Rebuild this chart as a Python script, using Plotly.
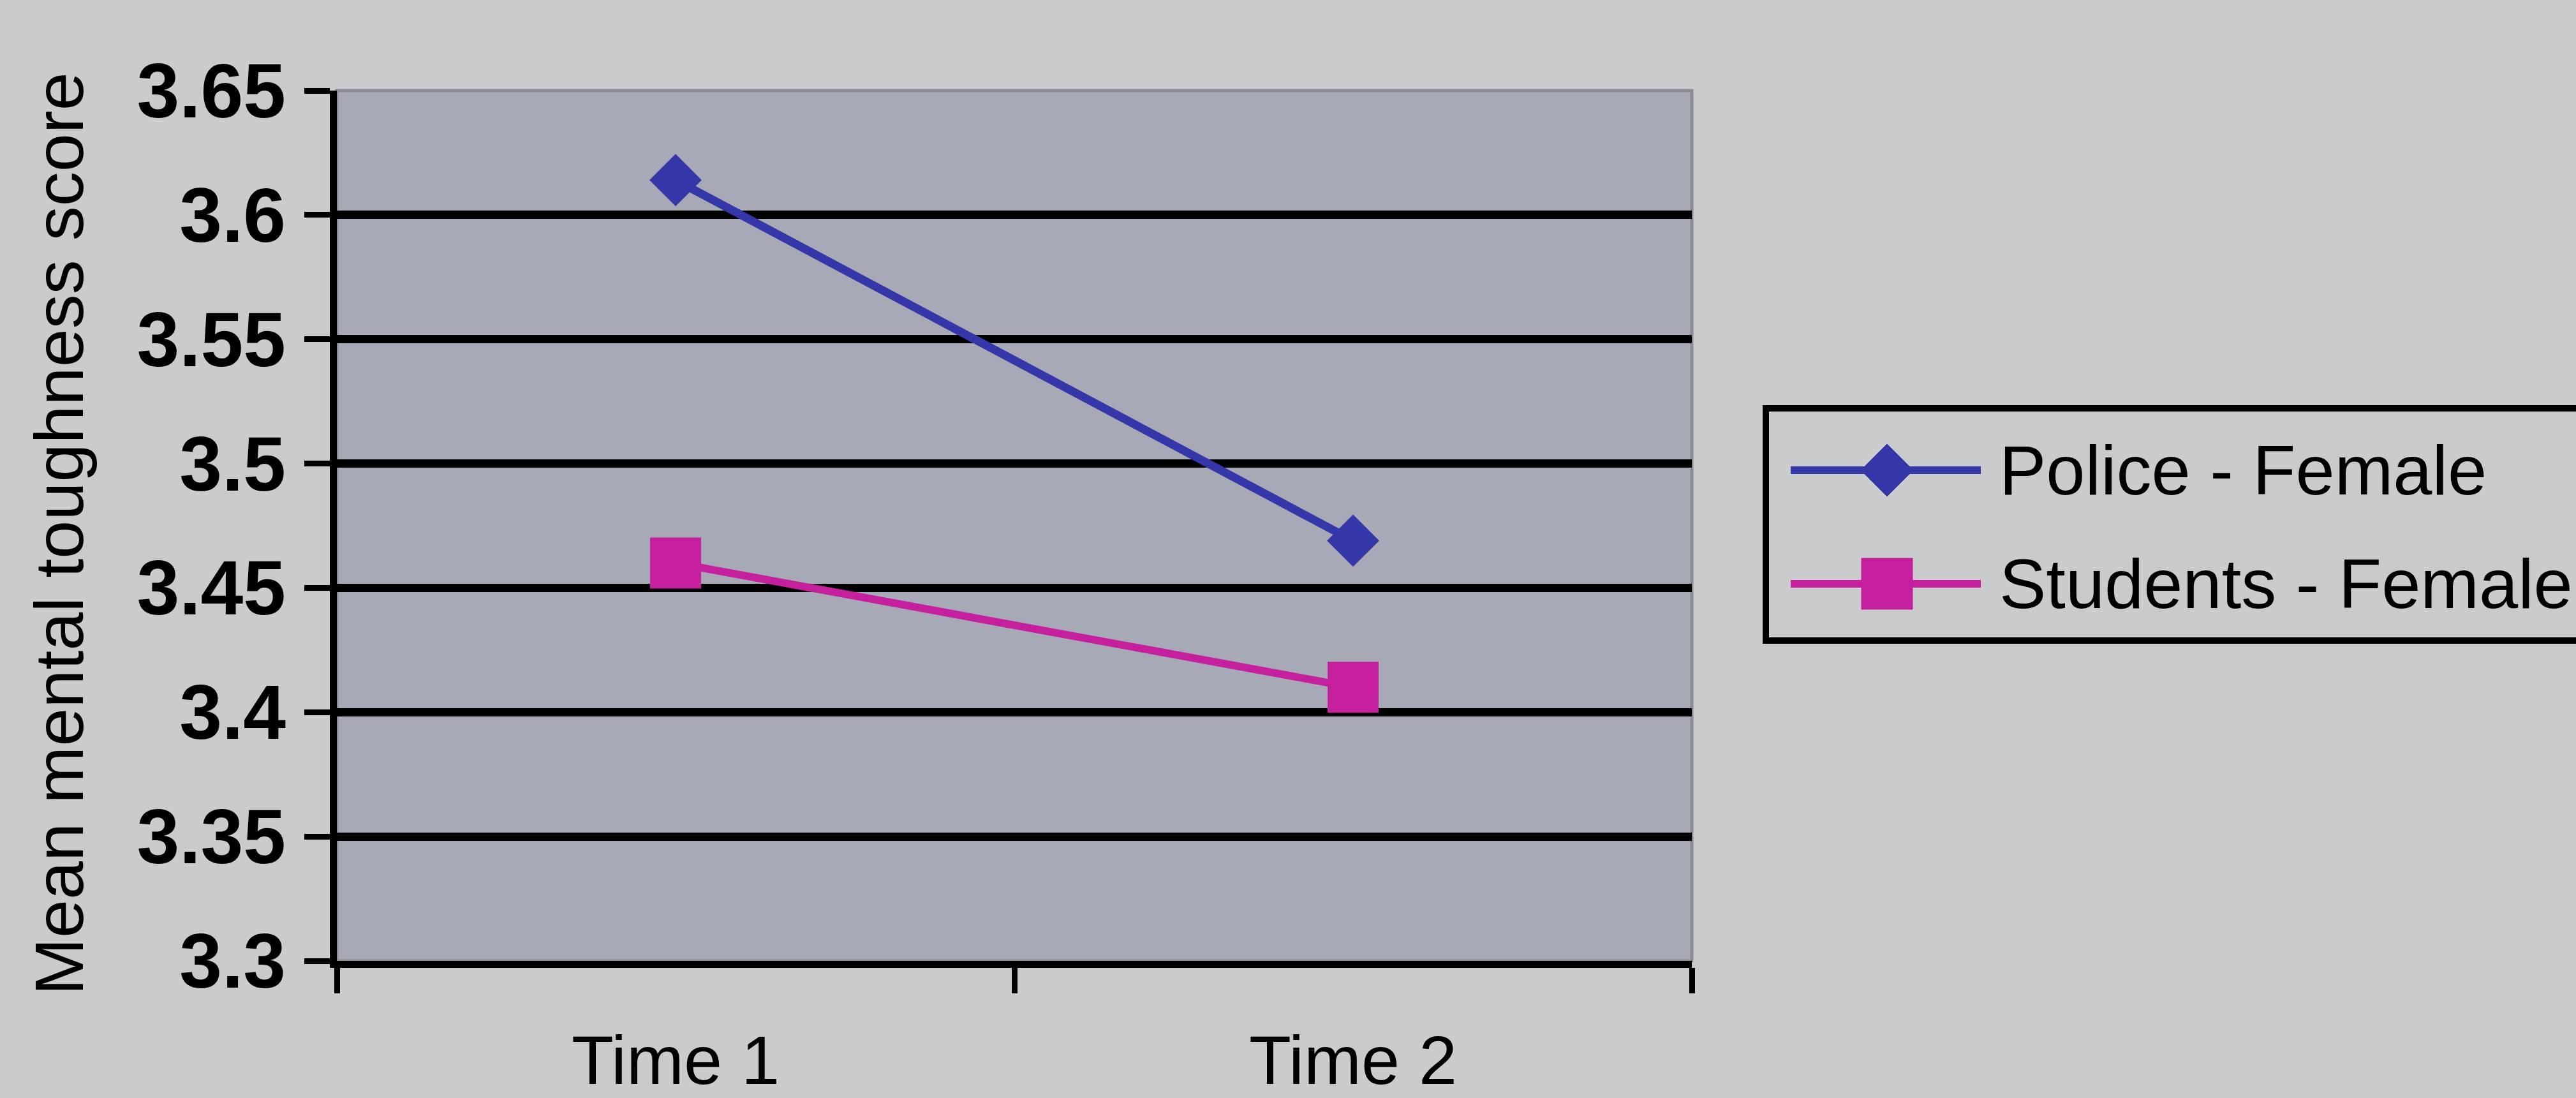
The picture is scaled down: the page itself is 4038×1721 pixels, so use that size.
import plotly.graph_objects as go

# Mean mental toughness scores at two time points
categories = ["Time 1", "Time 2"]
series_names = ["Police - Female", "Students - Female"]
police_female = [3.614, 3.469]
students_female = [3.460, 3.410]

y_tick_values = [3.3, 3.35, 3.4, 3.45, 3.5, 3.55, 3.6, 3.65]
y_tick_labels = ["3.3", "3.35", "3.4", "3.45", "3.5", "3.55", "3.6", "3.65"]
y_grid_values = [3.3, 3.35, 3.4, 3.45, 3.5, 3.55, 3.6]
y_title = "Mean mental toughness score"

W, H = 4038, 1721
L, R, T, B = 528, 2652, 142, 1506  # plot area in pixels

FONT = "Liberation Sans, Arial, sans-serif"
BLUE = "#3537a8"
MAGENTA = "#c41f9c"
PAGE_BG = "#c9cbcd"
PLOT_BG = "#a8a9b6"


def px_x(p):
    return (p - L) / (R - L)


def px_y(p):
    return (B - p) / (B - T)


fig = go.Figure()

fig.add_trace(go.Scatter(
    x=categories, y=police_female, name=series_names[0], mode="lines+markers",
    line=dict(color=BLUE, width=13),
    marker=dict(symbol="diamond", size=63, color=BLUE),
    showlegend=False, cliponaxis=False,
))
fig.add_trace(go.Scatter(
    x=categories, y=students_female, name=series_names[1], mode="lines+markers",
    line=dict(color=MAGENTA, width=12),
    marker=dict(symbol="square", size=80, color=MAGENTA),
    showlegend=False, cliponaxis=False,
))
# carrier for the gridline axis (not visible)
fig.add_trace(go.Scatter(
    x=categories, y=students_female, yaxis="y2", mode="lines",
    line=dict(width=0), opacity=0, hoverinfo="skip", showlegend=False,
))

shapes = []
# plot frame (top/right edges visible)
shapes.append(dict(type="rect", xref="paper", yref="paper", x0=0, x1=1, y0=0, y1=1,
                   line=dict(color="#8a8c94", width=5), layer="below"))

# hand-drawn legend
box_l, box_r, box_t, box_b = 2768, 4120, 640, 1004
shapes.append(dict(type="rect", xref="paper", yref="paper",
                   x0=px_x(box_l), x1=px_x(box_r), y0=px_y(box_b), y1=px_y(box_t),
                   line=dict(color="black", width=10), fillcolor=PAGE_BG, layer="above"))

rows_y = [737, 915]
colors = [BLUE, MAGENTA]
line_x0, line_x1, mark_cx = 2807, 3105, 2958
annotations = []
for i, (name, cy, col) in enumerate(zip(series_names, rows_y, colors)):
    shapes.append(dict(type="line", xref="paper", yref="paper",
                       x0=px_x(line_x0), x1=px_x(line_x1), y0=px_y(cy), y1=px_y(cy),
                       line=dict(color=col, width=12), layer="above"))
    if i == 0:
        h = 41
        path = (f"M {px_x(mark_cx - h)},{px_y(cy)} L {px_x(mark_cx)},{px_y(cy - h)} "
                f"L {px_x(mark_cx + h)},{px_y(cy)} L {px_x(mark_cx)},{px_y(cy + h)} Z")
        shapes.append(dict(type="path", xref="paper", yref="paper", path=path,
                           fillcolor=col, line=dict(color=col, width=1), layer="above"))
    else:
        h = 40
        shapes.append(dict(type="rect", xref="paper", yref="paper",
                           x0=px_x(mark_cx - h), x1=px_x(mark_cx + h),
                           y0=px_y(cy + h), y1=px_y(cy - h),
                           fillcolor=col, line=dict(color=col, width=1), layer="above"))
    annotations.append(dict(xref="paper", yref="paper", x=px_x(3132), y=px_y(cy),
                            xanchor="left", yanchor="middle", showarrow=False,
                            text=name, font=dict(family=FONT, size=110, color="black")))

annotations.append(dict(xref="paper", yref="paper", x=px_x(92), y=px_y(837),
                        xanchor="center", yanchor="middle", showarrow=False, textangle=-90,
                        text=y_title, font=dict(family=FONT, size=108, color="black")))

fig.update_layout(
    width=W, height=H,
    margin=dict(l=L, r=W - R, t=T, b=H - B, pad=0, autoexpand=False),
    paper_bgcolor=PAGE_BG, plot_bgcolor=PLOT_BG,
    shapes=shapes, annotations=annotations,
    xaxis=dict(
        type="category", range=[-0.5, 1.5], tickson="boundaries", automargin=False,
        ticks="outside", ticklen=40, tickwidth=9, tickcolor="black",
        showline=True, linecolor="black", linewidth=11, showgrid=False,
        tickfont=dict(family=FONT, size=108, color="black"),
        ticklabelstandoff=52, fixedrange=True,
    ),
    yaxis=dict(
        range=[3.3, 3.65], tickmode="array", tickvals=y_tick_values, ticktext=y_tick_labels,
        automargin=False,
        ticks="outside", ticklen=40, tickwidth=9, tickcolor="black",
        showline=True, linecolor="black", linewidth=11, showgrid=False, zeroline=False,
        tickfont=dict(family=FONT, size=120, color="black", weight="bold"),
        ticklabelstandoff=5, fixedrange=True,
    ),
    yaxis2=dict(
        overlaying="y", range=[3.3, 3.65], tickmode="array", tickvals=y_grid_values,
        automargin=False,
        showticklabels=False, ticks="", showline=False, zeroline=False,
        showgrid=True, gridcolor="black", gridwidth=13, fixedrange=True,
    ),
)

fig.write_html("out.html")
